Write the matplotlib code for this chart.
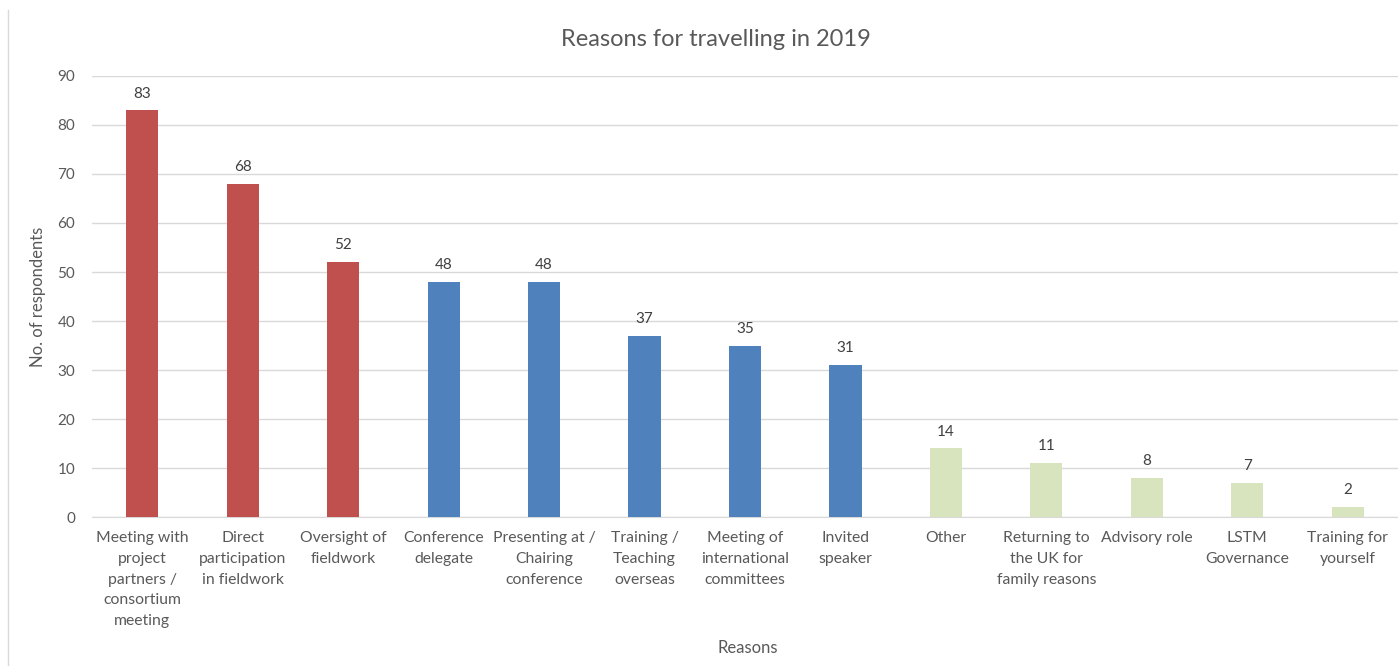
import matplotlib
matplotlib.use("Agg")
import matplotlib.pyplot as plt

reasons = [
    "Meeting with\nproject\npartners /\nconsortium\nmeeting",
    "Direct\nparticipation\nin fieldwork",
    "Oversight of\nfieldwork",
    "Conference\ndelegate",
    "Presenting at /\nChairing\nconference",
    "Training /\nTeaching\noverseas",
    "Meeting of\ninternational\ncommittees",
    "Invited\nspeaker",
    "Other",
    "Returning to\nthe UK for\nfamily reasons",
    "Advisory role",
    "LSTM\nGovernance",
    "Training for\nyourself",
]
respondents = [83, 68, 52, 48, 48, 37, 35, 31, 14, 11, 8, 7, 2]
groups = ["field"] * 3 + ["conference"] * 5 + ["other"] * 5
group_colors = {"field": "#C0504D", "conference": "#4F81BD", "other": "#D7E4BD"}

text_color = "#595959"
plt.rcParams["font.family"] = ["Lato", "DejaVu Sans"]

fig = plt.figure(figsize=(13.98, 6.66), dpi=100)
ax = fig.add_axes([0.0658, 0.2237, 0.9342, 0.6622])

x = range(len(reasons))
bars = ax.bar(x, respondents, width=0.32, color=[group_colors[g] for g in groups], zorder=3)
for rect, v in zip(bars, respondents):
    ax.annotate(str(v), (rect.get_x() + rect.get_width() / 2, v), xytext=(0, 7),
                textcoords="offset points", ha="center", va="bottom",
                fontsize=11, color="#404040")

ax.set_xlim(-0.5, len(reasons) - 0.5)
ax.set_ylim(0, 90)
ax.set_yticks(range(0, 91, 10))
ax.set_xticks(list(x))
ax.set_xticklabels(reasons, fontsize=11.3, color=text_color, linespacing=1.62)
ax.tick_params(axis="y", labelsize=11, labelcolor=text_color, length=0, pad=12)
ax.tick_params(axis="x", length=0, pad=10)
ax.grid(axis="y", color="#D9D9D9", linewidth=1, zorder=0)
for side in ["top", "right", "left"]:
    ax.spines[side].set_visible(False)
ax.spines["bottom"].set_color("#D9D9D9")

ax.set_ylabel("No. of respondents", fontsize=12, color=text_color, labelpad=8)
fig.text(0.535, 0.027, "Reasons", ha="center", va="center", fontsize=12, color=text_color)
fig.text(0.512, 0.94, "Reasons for travelling in 2019", ha="center", va="center",
         fontsize=17, color=text_color)

fig.add_artist(plt.Line2D([0.006, 0.006], [0.0, 0.985], color="#D9D9D9", linewidth=1))

fig.savefig("out.png", dpi=100)
